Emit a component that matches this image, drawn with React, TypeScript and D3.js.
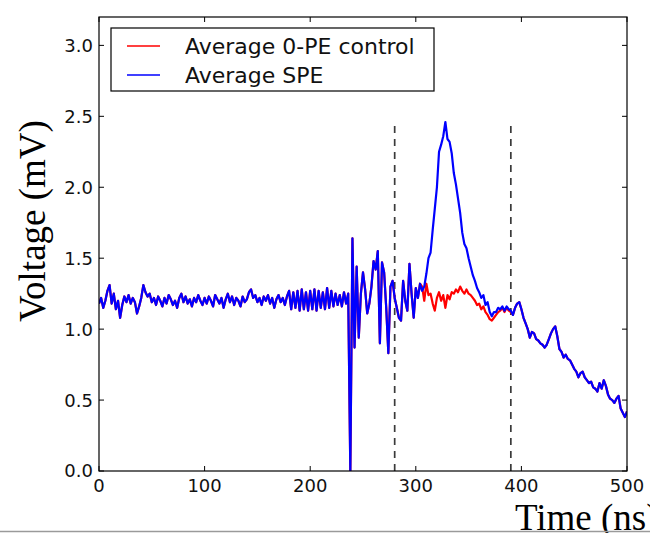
import React from "react";
import * as d3 from "d3";

// Sampling period of the traces (ns)
const samplePeriodNs = 2;

// Shared trace, t = 0 .. 304 ns (mV)
const baselineVoltage = [
  1.18, 1.22, 1.15, 1.2, 1.27, 1.31, 1.18, 1.25, 1.14, 1.2,
  1.08, 1.17, 1.23, 1.19, 1.24, 1.18, 1.22, 1.19, 1.11, 1.16,
  1.22, 1.31, 1.26, 1.23, 1.25, 1.19, 1.22, 1.17, 1.23, 1.2,
  1.16, 1.22, 1.18, 1.24, 1.21, 1.17, 1.2, 1.15, 1.22, 1.25,
  1.19, 1.23, 1.18, 1.21, 1.16, 1.22, 1.19, 1.24, 1.2, 1.17,
  1.22,
  1.18, 1.23, 1.2, 1.16, 1.24, 1.21, 1.18, 1.22, 1.15, 1.21,
  1.25, 1.19, 1.23, 1.17, 1.22, 1.2, 1.16, 1.23, 1.19, 1.21,
  1.26, 1.28, 1.22, 1.24, 1.19, 1.22, 1.17, 1.23, 1.2, 1.24,
  1.18, 1.22, 1.15, 1.21, 1.24, 1.19, 1.22, 1.17, 1.23, 1.27,
  1.14, 1.26, 1.15, 1.27, 1.13, 1.28, 1.14, 1.26, 1.13, 1.27,
  1.14, 1.28, 1.13, 1.27, 1.15, 1.26, 1.14, 1.29, 1.15, 1.27,
  1.16, 1.25, 1.17, 1.24, 1.16, 1.26, 1.18, 1.25, 0.0,
  1.64, 0.87, 1.44, 0.94, 1.25, 1.4, 1.28, 1.11, 1.18, 1.3,
  1.48, 1.42, 1.55, 0.9, 1.47, 1.4, 1.15, 0.83, 1.3, 1.34,
  1.22, 1.15, 1.08, 1.06, 1.34, 1.2, 1.13, 1.46, 1.25, 1.08,
  1.29, 1.22, 1.32,
];

// t = 306 .. 390 ns, average 0-PE control (mV)
const controlWindow = [
  1.3, 1.2, 1.32, 1.24, 1.25, 1.18, 1.13, 1.22, 1.26, 1.2,
  1.24, 1.15, 1.24, 1.21, 1.26, 1.25, 1.28, 1.26, 1.3, 1.27,
  1.25, 1.28, 1.25, 1.24, 1.22, 1.2, 1.17, 1.18, 1.14, 1.16,
  1.12, 1.1, 1.07, 1.06, 1.08, 1.1, 1.12, 1.13, 1.15, 1.12,
  1.15, 1.13, 1.12,
];

// t = 306 .. 390 ns, average SPE (mV)
const speWindow = [
  1.27, 1.3, 1.39, 1.5, 1.54, 1.7, 1.85, 2.0, 2.25, 2.3,
  2.36, 2.46, 2.34, 2.32, 2.24, 2.1, 2.02, 1.92, 1.82, 1.68,
  1.6, 1.57, 1.5, 1.44, 1.38, 1.34, 1.29, 1.26, 1.22, 1.24,
  1.17, 1.19, 1.12, 1.09, 1.12, 1.12, 1.15, 1.14, 1.16, 1.13,
  1.16, 1.14, 1.13,
];

// Shared tail, t = 392 .. 500 ns (mV)
const tailVoltage = [
  1.1, 1.15, 1.18, 1.19, 1.14, 1.08, 1.04, 1.0, 0.94, 0.98,
  0.97, 0.93, 0.92, 0.9, 0.89, 0.87, 0.89, 0.93, 0.97, 1.0,
  1.02, 0.95, 0.86, 0.84, 0.8, 0.82, 0.79, 0.78, 0.75, 0.72,
  0.7, 0.66, 0.69, 0.7, 0.66, 0.64, 0.62, 0.63, 0.59, 0.58,
  0.56, 0.62, 0.58, 0.64, 0.6, 0.54, 0.51, 0.5, 0.48, 0.51,
  0.53, 0.44, 0.41, 0.38, 0.42,
];

const controlVoltage = [...baselineVoltage, ...controlWindow, ...tailVoltage];
const speVoltage = [...baselineVoltage, ...speWindow, ...tailVoltage];

const integrationWindowNs = [280, 390];
const windowTopMv = 2.46;

const xTicks = [0, 100, 200, 300, 400, 500];
const yTicks = [0, 0.5, 1.0, 1.5, 2.0, 2.5, 3.0];
const xDomain = [0, 500];
const yDomain = [0, 3.2];

const seriesLabels = ["Average 0-PE control", "Average SPE"];
const seriesColors = ["#ff0000", "#0000ff"];

export default function App() {
  const W = 650;
  const H = 533;
  const left = 99, right = 627, top = 17, bottom = 471;
  const x = d3.scaleLinear().domain(xDomain).range([left, right]);
  const y = d3.scaleLinear().domain(yDomain).range([bottom, top]);

  const toPoints = (vals: number[]) =>
    vals.map((v, i) => [i * samplePeriodNs, v] as [number, number]);
  const line = d3
    .line<[number, number]>()
    .x((d) => x(d[0]))
    .y((d) => y(d[1]));

  const tickFont = "'DejaVu Sans', sans-serif";
  const serif = "'Liberation Serif', 'Times New Roman', serif";
  const tl = 5;
  const legendRow = 29;

  return (
    <svg
      width={W}
      height={H}
      style={{ position: "absolute", left: 0, top: 0, background: "#fff" }}
    >
      <defs>
        <clipPath id="plotclip">
          <rect x={left} y={top} width={right - left} height={bottom - top} />
        </clipPath>
      </defs>
      <rect x={0} y={0} width={W} height={H} fill="#fff" />

      {/* dashed integration window */}
      {integrationWindowNs.map((t) => (
        <line
          key={t}
          x1={x(t)}
          x2={x(t)}
          y1={y(0)}
          y2={y(windowTopMv)}
          stroke="#3a3a3a"
          strokeWidth={1.7}
          strokeDasharray="7,6"
        />
      ))}

      <g clipPath="url(#plotclip)">
        <path
          d={line(toPoints(controlVoltage)) || ""}
          fill="none"
          stroke={seriesColors[0]}
          strokeWidth={2.2}
          strokeLinejoin="round"
        />
        <path
          d={line(toPoints(speVoltage)) || ""}
          fill="none"
          stroke={seriesColors[1]}
          strokeWidth={2.2}
          strokeLinejoin="round"
        />
      </g>

      {/* frame */}
      <rect
        x={left}
        y={top}
        width={right - left}
        height={bottom - top}
        fill="none"
        stroke="#000"
        strokeWidth={1.2}
      />

      {/* x ticks */}
      {xTicks.map((t) => (
        <g key={"x" + t}>
          <line x1={x(t)} x2={x(t)} y1={bottom} y2={bottom - tl} stroke="#000" />
          <line x1={x(t)} x2={x(t)} y1={top} y2={top + tl} stroke="#000" />
          <text
            x={x(t)}
            y={492}
            textAnchor="middle"
            fontFamily={tickFont}
            fontSize={18}
            fill="#111"
          >
            {t}
          </text>
        </g>
      ))}

      {/* y ticks */}
      {yTicks.map((t) => (
        <g key={"y" + t}>
          <line x1={left} x2={left + tl} y1={y(t)} y2={y(t)} stroke="#000" />
          <line x1={right} x2={right - tl} y1={y(t)} y2={y(t)} stroke="#000" />
          <text
            x={93}
            y={y(t)}
            dy="0.36em"
            textAnchor="end"
            fontFamily={tickFont}
            fontSize={18}
            fill="#111"
          >
            {t.toFixed(1)}
          </text>
        </g>
      ))}

      {/* legend */}
      <rect x={111} y={28} width={323} height={63} fill="#fff" stroke="#000" strokeWidth={1.2} />
      {seriesLabels.map((lab, i) => (
        <g key={lab}>
          <line
            x1={127}
            x2={160}
            y1={46 + i * legendRow}
            y2={46 + i * legendRow}
            stroke={seriesColors[i]}
            strokeWidth={1.5}
          />
          <text
            x={185}
            y={46 + i * legendRow + 8}
            fontFamily={tickFont}
            fontSize={22}
            fill="#111"
          >
            {lab}
          </text>
        </g>
      ))}

      {/* axis labels */}
      <text
        transform="translate(45,221) rotate(-90)"
        textAnchor="middle"
        fontFamily={serif}
        fontSize={37}
        fill="#000"
      >
        Voltage (mV)
      </text>
      <text x={515} y={530} fontFamily={serif} fontSize={37} fill="#000">
        Time (ns)
      </text>
      <line x1={0} x2={W} y1={531.5} y2={531.5} stroke="#9a9a9a" strokeWidth={1.5} />
    </svg>
  );
}
